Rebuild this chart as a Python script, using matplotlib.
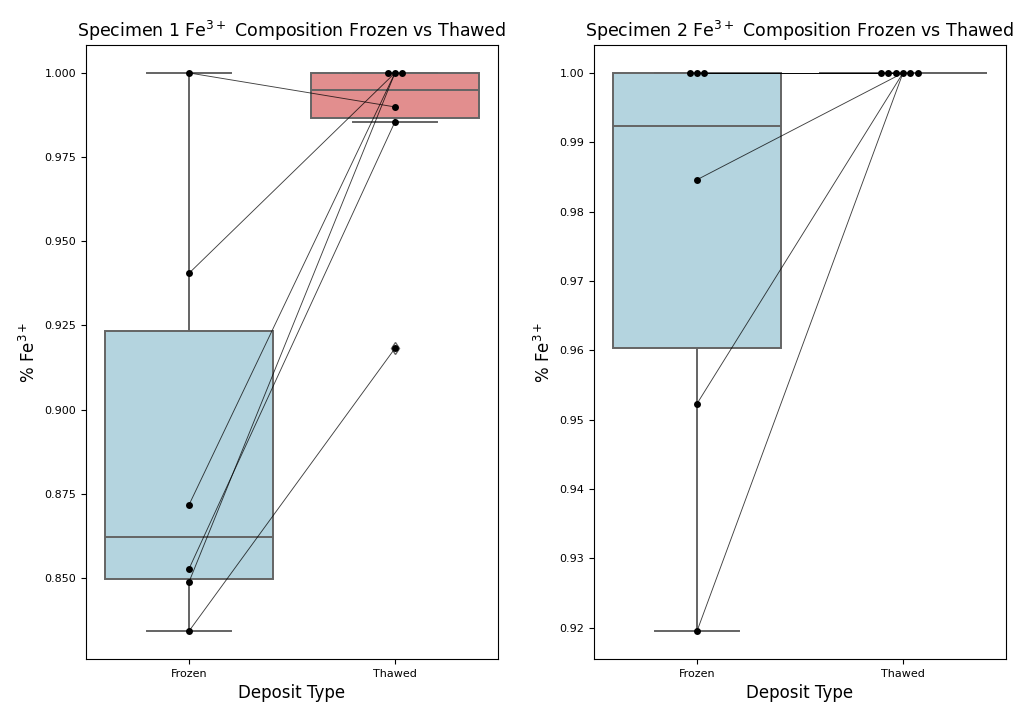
import matplotlib
matplotlib.use("Agg")
import matplotlib.pyplot as plt
import numpy as np
import pandas as pd
import seaborn as sns

categories = ["Frozen", "Thawed"]

# specimen 1, paired samples (frozen[i] -> thawed[i])
s1_frozen = [1.000, 0.9405, 0.8717, 0.8527, 0.8488, 0.8342]
s1_thawed = [0.9899, 1.000, 1.000, 0.9855, 1.000, 0.9182]

# specimen 2
s2_frozen = [1.000, 1.000, 1.000, 0.9846, 0.9523, 0.9195]
s2_thawed = [1.000, 1.000, 1.000, 1.000, 1.000, 1.000]

palette = {"Frozen": "lightblue", "Thawed": "lightcoral"}

fig = plt.figure(figsize=(10.34, 7.08), dpi=100)
ax1 = fig.add_axes([0.0832, 0.0692, 0.3984, 0.8672])
ax2 = fig.add_axes([0.5745, 0.0692, 0.3984, 0.8672])


def draw(ax, frozen, thawed, title):
    df = pd.DataFrame({
        "Deposit Type": ["Frozen"] * len(frozen) + ["Thawed"] * len(thawed),
        "Fe": frozen + thawed,
    })
    sns.boxplot(data=df, x="Deposit Type", y="Fe", hue="Deposit Type",
                palette=palette, legend=False, ax=ax, order=categories,
                width=0.82, linewidth=1.4, linecolor="#646464",
                flierprops={"marker": "d", "markersize": 6})
    for f, t in zip(frozen, thawed):
        ax.plot([0, 1], [f, t], color="black", lw=0.65, alpha=0.75, zorder=3)
    sns.swarmplot(data=df, x="Deposit Type", y="Fe", color="black", size=5,
                  ax=ax, order=categories, zorder=4)
    ax.set_title(title, fontsize=12.5)
    ax.set_xlabel("Deposit Type", fontsize=12)
    ax.set_ylabel("% Fe$^{3+}$", fontsize=12)
    ax.tick_params(labelsize=8)


draw(ax1, s1_frozen, s1_thawed, "Specimen 1 Fe$^{3+}$ Composition Frozen vs Thawed")
draw(ax2, s2_frozen, s2_thawed, "Specimen 2 Fe$^{3+}$ Composition Frozen vs Thawed")
ax1.yaxis.set_major_formatter(matplotlib.ticker.FormatStrFormatter("%.3f"))
ax2.yaxis.set_major_formatter(matplotlib.ticker.FormatStrFormatter("%.2f"))

fig.savefig("out.png", dpi=100)
